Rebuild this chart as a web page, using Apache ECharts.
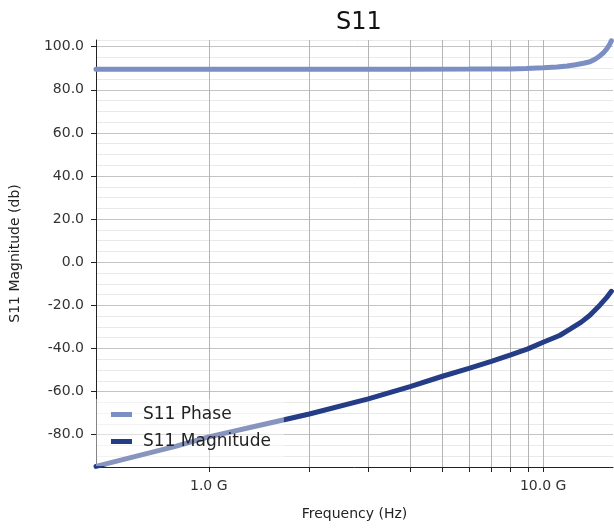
<!DOCTYPE html>
<html>
<head>
<meta charset="utf-8">
<script src="https://cdn.jsdelivr.net/npm/echarts@6/dist/echarts.min.js"></script>
<style>html,body{margin:0;padding:0;background:#fff}#c{width:614px;height:529px}</style>
</head>
<body>
<div id="c"></div>
<script>
// Frequencies in GHz
const phaseFreq = [0.46, 1, 2, 4, 6, 8, 8.9, 10, 11, 11.8, 12.5, 13.2, 13.8, 14.3, 14.8, 15.2, 15.5, 15.8, 16.0];
const phaseVals = [89.5, 89.5, 89.5, 89.5, 89.6, 89.7, 89.9, 90.2, 90.6, 91.0, 91.6, 92.3, 93.0, 94.2, 95.8, 97.4, 99.0, 101.0, 102.7];
const magFreq = [0.46, 0.6, 0.8, 1.0, 1.5, 2.0, 3.0, 4.0, 5.0, 6.0, 7.0, 8.0, 9.0, 10.0, 11.2, 12.0, 13.0, 13.8, 14.8, 15.5, 16.0];
const magVals = [-94.7, -90.2, -85.3, -81.0, -74.8, -70.4, -63.4, -57.7, -52.9, -49.2, -46.0, -43.0, -40.2, -37.1, -34.0, -31.2, -27.8, -24.6, -19.8, -16.3, -13.5];
const xTickGHz = [1, 2, 3, 4, 5, 6, 7, 8, 9, 10];
const xLabelGHz = [1, 10];
const yMajorTicks = [-80, -60, -40, -20, 0, 20, 40, 60, 80, 100];
const seriesNames = ['S11 Phase', 'S11 Magnitude'];

const G = 1e9;
const FONT = 'DejaVu Sans';
const xMin = 0.46 * G, xMax = 16.18 * G;
const yMin = -95, yMax = 103.1;

const chart = echarts.init(document.getElementById('c'), null, {renderer: 'canvas'});
chart.setOption({
  animation: false,
  title: {
    text: 'S11', left: 354, top: 6, textAlign: 'center',
    textStyle: {fontFamily: FONT, fontSize: 24, fontWeight: 'normal', color: '#111'}
  },
  grid: {left: 95, right: 1, top: 40, bottom: 62},
  legend: {
    orient: 'vertical', left: 96, top: 399,
    padding: [7, 13, 16, 15], itemGap: 10,
    backgroundColor: 'rgba(255,255,255,0.45)',
    icon: 'rect', itemWidth: 21, itemHeight: 5,
    textStyle: {fontFamily: FONT, fontSize: 17, color: '#222', padding: [0, 0, 0, 6]},
    data: seriesNames
  },
  xAxis: {
    type: 'log', logBase: 10, min: xMin, max: xMax,
    name: 'Frequency (Hz)', nameLocation: 'middle', nameGap: 40,
    nameTextStyle: {fontFamily: FONT, fontSize: 14, color: '#222'},
    axisLine: {show: true, onZero: false, lineStyle: {color: '#222', width: 1}},
    axisTick: {show: true, length: 5, inside: false, lineStyle: {color: '#222'}, customValues: xTickGHz.map(v => v * G)},
    axisLabel: {
      margin: 12, fontFamily: FONT, fontSize: 14, color: '#333',
      customValues: xLabelGHz.map(v => v * G),
      formatter: v => (v / G).toFixed(1) + ' G'
    },
    splitLine: {show: true, lineStyle: {color: '#b4b4b4', width: 1}},
    minorTick: {show: false}, minorSplitLine: {show: false}
  },
  yAxis: [{
    type: 'value', min: yMin, max: yMax, interval: 5,
    name: 'S11 Magnitude (db)', nameLocation: 'middle', nameGap: 74, nameRotate: 90,
    nameTextStyle: {fontFamily: FONT, fontSize: 14, color: '#222'},
    axisLine: {show: true, onZero: false, lineStyle: {color: '#222', width: 1}},
    axisTick: {show: false},
    axisLabel: {
      margin: 12, fontFamily: FONT, fontSize: 14, color: '#333',
      formatter: v => (Math.abs(v % 20) < 1e-9 && v <= 100) ? v.toFixed(1) : ''
    },
    splitLine: {show: true, lineStyle: {color: ['#e9e9e9', '#e9e9e9', '#e9e9e9', '#c4c4c4'], width: 1}}
  }, {
    type: 'value', min: yMin, max: yMax, position: 'left',
    axisLine: {show: false, onZero: false},
    axisTick: {show: true, length: 5, lineStyle: {color: '#222'}, customValues: yMajorTicks},
    axisLabel: {show: false},
    splitLine: {show: false}
  }],
  series: [{
    name: seriesNames[0], type: 'line', showSymbol: false, symbol: 'none',
    data: phaseFreq.map((f, i) => [f * G, phaseVals[i]]),
    lineStyle: {color: '#7b8fc5', width: 5, cap: 'round'},
    itemStyle: {color: '#7b8fc5'},
    z: 3
  }, {
    name: seriesNames[1], type: 'line', showSymbol: false, symbol: 'none',
    data: magFreq.map((f, i) => [f * G, magVals[i]]),
    lineStyle: {color: '#253c87', width: 5, cap: 'round'},
    itemStyle: {color: '#253c87'},
    z: 3
  }]
});
</script>
</body>
</html>
